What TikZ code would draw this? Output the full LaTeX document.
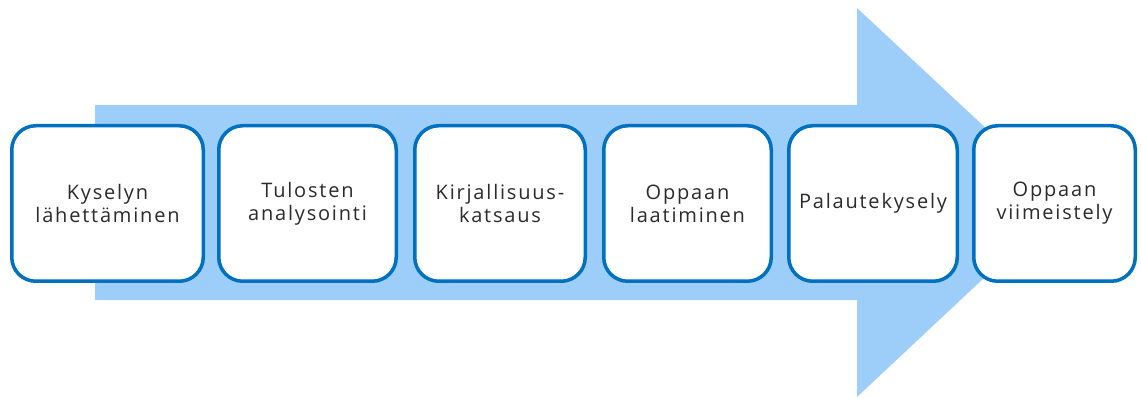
\documentclass[tikz,border=0pt]{standalone}
\usepackage{fontspec}
\setmainfont{Open Sans}[LetterSpace=9]
\definecolor{arrowblue}{HTML}{9DCDF9}
\definecolor{boxblue}{HTML}{0070C0}
\definecolor{textgray}{HTML}{2B2B2B}

\begin{document}
\begin{tikzpicture}[x=1pt,y=-1pt,
        phase/.style={rectangle,rounded corners=24pt,draw=boxblue,line width=3.5pt,fill=white,
            minimum height=155.5pt,align=center,text=textgray,inner sep=0pt,
            font=\fontsize{20}{23}\selectfont}]
                \useasboundingbox (0,0) rectangle (1141,398);
                % big arrow in the background
                \fill[arrowblue] (95,105) -- (857,105) -- (857,8) -- (1065,202)
                    -- (857,397) -- (857,300) -- (95,300) -- cycle;
                \node[phase,minimum width=191.5pt](K) at (107.5,203.5) {Kyselyn\\lähettäminen};
                \node[phase,minimum width=177.5pt](T) at (307.5,203.5) {Tulosten\\analysointi};
                \node[phase,minimum width=170.5pt](L) at (500,203.5) {Kirjallisuus-\\katsaus};
                \node[phase,minimum width=167.5pt](O) at (687.5,203.5) {Oppaan\\laatiminen};
                \node[phase,minimum width=168.5pt](P) at (873,203.5) {Palautekysely};
                \node[phase,minimum width=161.5pt](V) at (1054.5,203.5) {Oppaan\\viimeistely};
            \end{tikzpicture}
\end{document}
